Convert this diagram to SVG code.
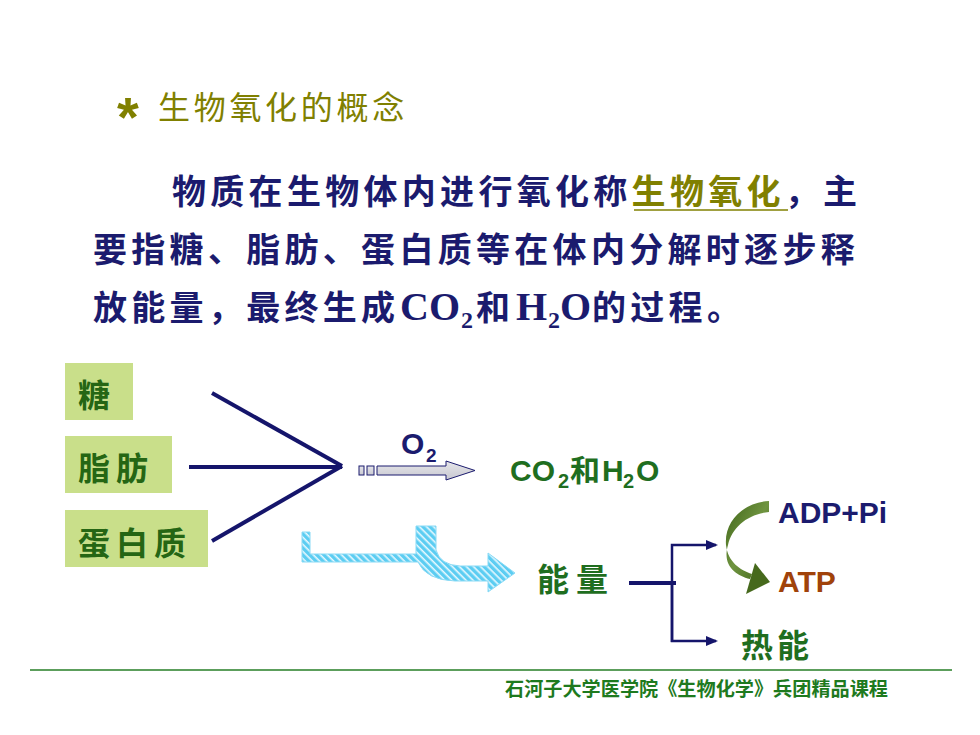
<svg xmlns="http://www.w3.org/2000/svg" width="980" height="735" viewBox="0 0 980 735">
<style>
.cjk{font-family:"Noto Sans CJK SC","Noto Sans",sans-serif;}
.lat{font-family:"Liberation Sans",Arial,sans-serif;font-weight:bold;}
.ser{font-family:"Liberation Serif","Times New Roman",serif;font-weight:bold;}
.para{fill:#1b1b6e;font-size:34px;font-weight:bold;letter-spacing:4.3px;}
.box{fill:#c9df8a;}
.boxt{fill:#256614;font-size:32px;font-weight:bold;letter-spacing:6px;}
.green{fill:#1f6e1f;}
.navy{stroke:#15156b;fill:none;stroke-width:4;}
</style>
<defs>
<pattern id="hatch" patternUnits="userSpaceOnUse" width="5" height="5" patternTransform="rotate(45)">
<rect width="5" height="5" fill="#5ccdf2"/>
<rect width="5" height="1.6" fill="#e6f8ff"/>
</pattern>
<linearGradient id="grayarrow" x1="0" y1="0" x2="0" y2="1">
<stop offset="0" stop-color="#e6e6ea"/>
<stop offset="1" stop-color="#c8c8d0"/>
</linearGradient>
<linearGradient id="garrow" x1="0" y1="0" x2="1" y2="1">
<stop offset="0" stop-color="#3f6418"/>
<stop offset="0.5" stop-color="#6f9440"/>
<stop offset="1" stop-color="#3f6418"/>
</linearGradient>
</defs>
<rect width="980" height="735" fill="#ffffff"/>

<g id="title">
<text x="117" y="136" class="lat" font-size="56" fill="#808000">*</text>
<text x="158" y="119" class="cjk" font-size="32" fill="#808000" letter-spacing="3.7">生物氧化的概念</text>
</g>

<g id="paragraph" class="cjk">
<text x="172" y="204" class="cjk para">物质在生物体内进行氧化称<tspan fill="#808000">生物氧化</tspan>，主</text>
<line x1="634" y1="210" x2="788" y2="210" stroke="#808000" stroke-width="1.5"/>
<text x="93" y="262" class="cjk para">要指糖、脂肪、蛋白质等在体内分解时逐步释</text>
<text x="93" y="320" class="cjk para">放能量，最终生成</text>
<text x="400" y="320" class="ser" font-size="40" fill="#1b1b6e">CO</text>
<text x="461" y="328" class="ser" font-size="24" fill="#1b1b6e">2</text>
<text x="476" y="320" class="cjk para">和</text>
<text x="516" y="320" class="ser" font-size="40" fill="#1b1b6e">H</text>
<text x="548" y="328" class="ser" font-size="24" fill="#1b1b6e">2</text>
<text x="560" y="320" class="ser" font-size="40" fill="#1b1b6e">O</text>
<text x="592" y="320" class="cjk para">的过程。</text>
</g>

<g id="node-tang">
<rect class="box" x="65" y="363" width="68" height="57"/>
<text x="78" y="407" class="cjk boxt">糖</text>
</g>
<g id="node-zhifang">
<rect class="box" x="65" y="436" width="107" height="57"/>
<text x="78" y="480" class="cjk boxt">脂肪</text>
</g>
<g id="node-danbaizhi">
<rect class="box" x="65" y="510" width="143" height="57"/>
<text x="78" y="555" class="cjk boxt">蛋白质</text>
</g>

<g id="node-products">
<text x="510" y="481" class="lat green" font-size="30">CO</text>
<text x="558" y="488" class="lat green" font-size="20">2</text>
<text x="570" y="481" class="cjk green" font-size="30" font-weight="bold">和</text>
<text x="602" y="481" class="lat green" font-size="30">H</text>
<text x="623" y="488" class="lat green" font-size="20">2</text>
<text x="636" y="481" class="lat green" font-size="30">O</text>
</g>

<g id="node-energy">
<text x="537" y="591" class="cjk green" font-size="32" font-weight="bold" letter-spacing="7">能量</text>
</g>
<g id="node-adp">
<text x="778" y="523" class="lat" font-size="30" fill="#1b1b6e">ADP+Pi</text>
</g>
<g id="node-atp">
<text x="778" y="592" class="lat" font-size="30" fill="#a0420a">ATP</text>
</g>
<g id="node-heat">
<text x="741" y="657" class="cjk green" font-size="32" font-weight="bold" letter-spacing="4">热能</text>
</g>

<g id="connectors">
<line class="navy" x1="212" y1="393" x2="342" y2="466"/>
<line class="navy" x1="189" y1="467" x2="342" y2="467"/>
<line class="navy" x1="212" y1="541" x2="342" y2="466"/>

<g id="o2-arrow" stroke="#1b1b6e" stroke-width="1">
<rect x="359" y="466" width="5" height="9" fill="url(#grayarrow)"/>
<rect x="367" y="466" width="7" height="9" fill="url(#grayarrow)"/>
<path d="M377 466 L446 466 L446 461 L475 470.5 L446 480 L446 475 L377 475 Z" fill="url(#grayarrow)"/>
</g>
<text x="401" y="454" class="lat" font-size="30" fill="#1b1b6e">O</text>
<text x="426" y="462" class="lat" font-size="19" fill="#1b1b6e">2</text>

<path d="M302 532 L310 532 L310 554 L416 554 L416 526 L436 526 L436 550 Q440 565 460 566 L488 566 L488 553 L515 573 L488 592 L488 581 L455 581 Q426 580 418 562 L302 562 Z" fill="url(#hatch)" stroke="#8adaf5" stroke-width="1"/>

<path d="M629 583 L676 583" stroke="#15156b" stroke-width="4" fill="none"/>
<path d="M672 642 L672 545 L716 545" stroke="#15156b" stroke-width="2.5" fill="none"/>
<polygon points="706,540 718,545 706,550" fill="#15156b"/>
<path d="M672 583 L672 641 L716 641" stroke="#15156b" stroke-width="2.5" fill="none"/>
<polygon points="706,636 718,641 706,646" fill="#15156b"/>

<path d="M769 501 C745 502 724 520 726 545 C728 562 740 570 752 574 L750 579 C735 575 722 565 728 545 C732 527 748 514 769 512 Z" fill="url(#garrow)"/>
<polygon points="755,563 770,582 746,594" fill="#46691c"/>
</g>

<g id="footer">
<line x1="30" y1="670" x2="952" y2="670" stroke="#5c9e5c" stroke-width="2"/>
<text x="505" y="696" class="cjk" font-size="19" font-weight="bold" fill="#1e7a1e" textLength="383" lengthAdjust="spacingAndGlyphs">石河子大学医学院《生物化学》兵团精品课程</text>
</g>
</svg>
